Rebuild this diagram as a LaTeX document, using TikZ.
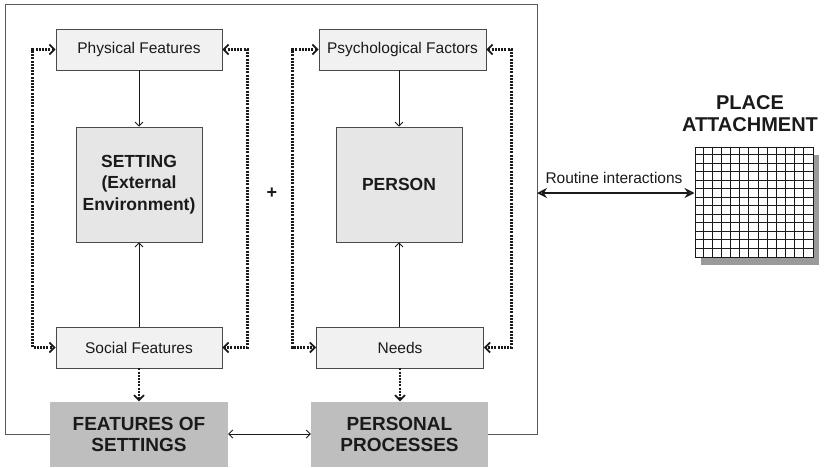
\documentclass[tikz,border=0pt]{standalone}
\usepackage{fontspec}
\setmainfont{Liberation Sans}
\usetikzlibrary{arrows.meta,calc}
\definecolor{ink}{HTML}{1A1A1A}
\definecolor{boxline}{HTML}{4A4A4A}
\definecolor{lightfill}{HTML}{F1F1F1}
\definecolor{midfill}{HTML}{E6E6E6}
\definecolor{darkfill}{HTML}{BEBEBE}
\definecolor{framecol}{HTML}{5A5A5A}
\definecolor{shadowcol}{HTML}{9A9A9A}
\tikzset{
  smallbox/.style={draw=boxline, fill=lightfill, line width=0.8pt, minimum width=166pt, minimum height=41pt, inner sep=0pt, text=ink, font=\fontsize{15.5}{18}\selectfont},
  midbox/.style={draw=boxline, fill=midfill, line width=0.8pt, minimum width=126pt, minimum height=115pt, inner sep=0pt, align=center, text=ink, font=\bfseries\fontsize{17.5}{21.5}\selectfont},
  bigbox/.style={fill=darkfill, minimum width=178pt, minimum height=65pt, inner sep=0pt, align=center, text=ink, font=\bfseries\fontsize{19}{21}\selectfont},
  thinarrow/.style={draw=ink, line width=0.8pt, -{Straight Barb[length=4pt,width=8pt]}},
  dotline/.style={draw=ink, line width=2.6pt, dash pattern=on 2pt off 1.2pt},
  dotarrows/.style={dotline, {Straight Barb[length=5pt,width=10pt,line width=1.7pt]}-{Straight Barb[length=5pt,width=10pt,line width=1.7pt]}},
  dotdown/.style={dotline, -{Straight Barb[length=5pt,width=10pt,line width=1.7pt]}},
  framestyle/.style={draw=framecol, line width=0.9pt},
  labeltext/.style={text=ink, inner sep=0pt, font=\fontsize{15.5}{18}\selectfont}
}
\begin{document}
\begin{tikzpicture}[x=1pt,y=-1pt]
\useasboundingbox (0,0) rectangle (824,467);
% frame corners
\coordinate (f1) at (5,4);
\coordinate (f2) at (537,4);
\coordinate (fr) at (537,193);
% boxes
\node[smallbox] (phys) at (139,49.5) {Physical Features};
\node[smallbox, minimum width=167pt] (psy) at (402.5,49.5) {Psychological Factors};
\node[midbox] (setting) at (139,184.5) {SETTING\\(External\\Environment)};
\node[midbox] (person) at (399,184.5) {PERSON};
\node[smallbox] (social) at (139,347.5) {Social Features};
\node[smallbox, minimum width=167pt] (needs) at (400,347.5) {Needs};
\node[bigbox] (fos) at (139,434) {FEATURES OF\\SETTINGS};
\node[bigbox, minimum width=177pt] (pp) at (399.5,434) {PERSONAL\\PROCESSES};
\node[text=ink, inner sep=0pt, font=\bfseries\fontsize{18}{18}\selectfont] (plus) at (272,193) {+};
% frame
\draw[framestyle] (fos.west) -| (f1) -- (f2) |- (pp.east);
% solid arrows
\draw[thinarrow] (phys) -- (setting);
\draw[thinarrow] (social) -- (setting);
\draw[thinarrow] (psy.south -| person.north) -- (person.north);
\draw[thinarrow] (needs.north -| person.south) -- (person.south);
\draw[draw=ink, line width=0.8pt, {Straight Barb[length=4pt,width=8pt]}-{Straight Barb[length=4pt,width=8pt]}] (fos.east) -- (pp.west);
% dotted loops
\draw[dotarrows] (phys.west) -- ++(-23,0) |- (social.west);
\draw[dotarrows] (phys.east) -- ++(25,0) |- (social.east);
\draw[dotarrows] (psy.west) -- ++(-26,0) |- (needs.west);
\draw[dotarrows] (psy.east) -- ++(25,0) |- (needs.east);
\draw[dotdown] (social) -- (fos);
\draw[dotdown] (needs.south) -- (needs.south |- pp.north);
% place attachment grid
\fill[shadowcol] (701,155) rectangle (819,265);
\node[draw=ink, fill=white, line width=1pt, minimum width=118pt, minimum height=110pt, inner sep=0pt] (grid) at (754,202) {};
\foreach \i in {1,...,12} {
  \draw[ink, line width=1pt] ($(grid.north west)+(\i*118/13,0)$) -- ($(grid.south west)+(\i*118/13,0)$);
  \draw[ink, line width=1pt] ($(grid.north west)+(0,\i*110/13)$) -- ($(grid.north east)+(0,\i*110/13)$);
}
\node[text=ink, align=center, inner sep=0pt, font=\bfseries\fontsize{20}{22}\selectfont] (pa) at (750,114) {PLACE\\ATTACHMENT};
% routine interactions
\draw[draw=ink, line width=2.6pt, {Stealth[open,length=10pt,width=10pt,line width=1.6pt]}-{Stealth[open,length=10pt,width=10pt,line width=1.6pt]}] (fr) -- (fr -| grid.west);
\node[labeltext] (ri) at (614,178) {Routine interactions};
\end{tikzpicture}
\end{document}
